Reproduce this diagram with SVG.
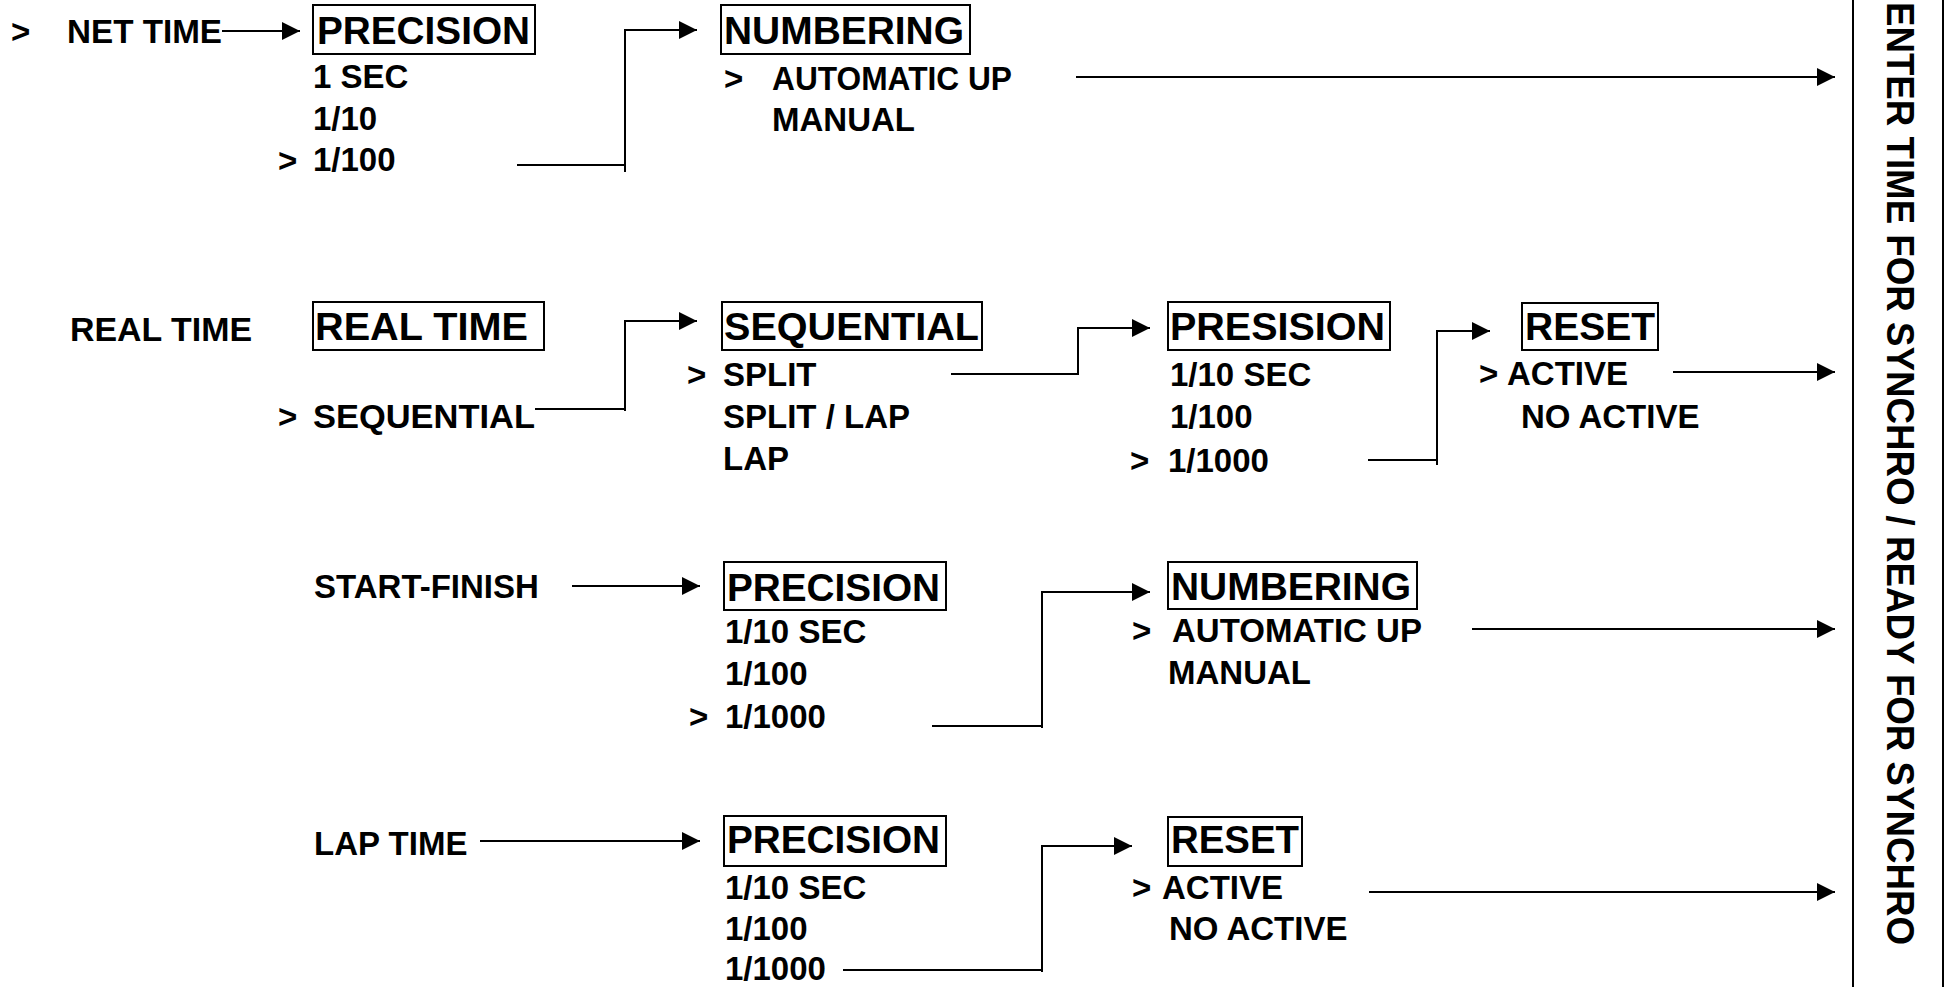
<svg xmlns="http://www.w3.org/2000/svg" width="1950" height="987" viewBox="0 0 1950 987">
<style>
text{font-family:"Liberation Sans",Arial,sans-serif;font-weight:bold;fill:#000}
.i{font-size:33px}
.h{font-size:39px}
.v{font-size:38px}
.box{fill:none;stroke:#000;stroke-width:2}
.c{fill:none;stroke:#000;stroke-width:2}
</style>
<defs>
<marker id="ah" markerUnits="userSpaceOnUse" markerWidth="20" markerHeight="20" refX="18" refY="9" orient="auto">
<path d="M0,0 L18,9 L0,18 z" fill="#000"/>
</marker>
</defs>
<rect width="1950" height="987" fill="#fff"/>

<g id="connectors">
<line class="c" x1="222" y1="31" x2="300" y2="31" marker-end="url(#ah)"/>
<polyline class="c" points="517,165 625,165"/>
<polyline class="c" points="625,172 625,30 697,30" marker-end="url(#ah)"/>
<line class="c" x1="1076" y1="77" x2="1835" y2="77" marker-end="url(#ah)"/>

<polyline class="c" points="535,409 625,409"/>
<polyline class="c" points="625,411 625,321 697,321" marker-end="url(#ah)"/>
<polyline class="c" points="951,374 1078,374 1078,328 1150,328" marker-end="url(#ah)"/>
<polyline class="c" points="1368,460 1437,460"/>
<polyline class="c" points="1437,465 1437,331 1490,331" marker-end="url(#ah)"/>
<line class="c" x1="1673" y1="372" x2="1835" y2="372" marker-end="url(#ah)"/>

<line class="c" x1="572" y1="586" x2="700" y2="586" marker-end="url(#ah)"/>
<polyline class="c" points="932,726 1042,726"/>
<polyline class="c" points="1042,728 1042,592 1150,592" marker-end="url(#ah)"/>
<line class="c" x1="1472" y1="629" x2="1835" y2="629" marker-end="url(#ah)"/>

<line class="c" x1="480" y1="841" x2="700" y2="841" marker-end="url(#ah)"/>
<polyline class="c" points="843,970 1042,970"/>
<polyline class="c" points="1042,972 1042,846 1132,846" marker-end="url(#ah)"/>
<line class="c" x1="1369" y1="892" x2="1835" y2="892" marker-end="url(#ah)"/>
</g>

<g id="net-time">
<text class="i" x="11" y="43">&gt;</text>
<text class="i" x="67" y="43" textLength="155" lengthAdjust="spacingAndGlyphs">NET TIME</text>
</g>
<g id="precision-1">
<rect class="box" x="313" y="5" width="222" height="49"/>
<text class="h" x="317" y="44" textLength="213" lengthAdjust="spacingAndGlyphs">PRECISION</text>
<text class="i" x="313" y="88">1 SEC</text>
<text class="i" x="313" y="130">1/10</text>
<text class="i" x="278" y="172">&gt;</text>
<text class="i" x="313" y="171">1/100</text>
</g>
<g id="numbering-1">
<rect class="box" x="721" y="5" width="249" height="49"/>
<text class="h" x="724" y="44" textLength="240" lengthAdjust="spacingAndGlyphs">NUMBERING</text>
<text class="i" x="724" y="90">&gt;</text>
<text class="i" x="772" y="90" textLength="240" lengthAdjust="spacingAndGlyphs">AUTOMATIC UP</text>
<text class="i" x="772" y="131">MANUAL</text>
</g>

<g id="real-time-label">
<text class="i" x="70" y="341" textLength="182" lengthAdjust="spacingAndGlyphs">REAL TIME</text>
</g>
<g id="real-time">
<rect class="box" x="313" y="302" width="231" height="48"/>
<text class="h" x="315" y="340" textLength="213" lengthAdjust="spacingAndGlyphs">REAL TIME</text>
<text class="i" x="278" y="428">&gt;</text>
<text class="i" x="313" y="428" textLength="222" lengthAdjust="spacingAndGlyphs">SEQUENTIAL</text>
</g>
<g id="sequential">
<rect class="box" x="722" y="302" width="260" height="48"/>
<text class="h" x="724" y="340" textLength="255" lengthAdjust="spacingAndGlyphs">SEQUENTIAL</text>
<text class="i" x="687" y="386">&gt;</text>
<text class="i" x="723" y="386">SPLIT</text>
<text class="i" x="723" y="428">SPLIT / LAP</text>
<text class="i" x="723" y="470">LAP</text>
</g>
<g id="presision">
<rect class="box" x="1168" y="302" width="222" height="48"/>
<text class="h" x="1170" y="340" textLength="215" lengthAdjust="spacingAndGlyphs">PRESISION</text>
<text class="i" x="1170" y="386">1/10 SEC</text>
<text class="i" x="1170" y="428">1/100</text>
<text class="i" x="1130" y="472">&gt;</text>
<text class="i" x="1168" y="472">1/1000</text>
</g>
<g id="reset-2">
<rect class="box" x="1522" y="303" width="136" height="47"/>
<text class="h" x="1525" y="340" textLength="130" lengthAdjust="spacingAndGlyphs">RESET</text>
<text class="i" x="1479" y="385">&gt;</text>
<text class="i" x="1507" y="385">ACTIVE</text>
<text class="i" x="1521" y="428">NO ACTIVE</text>
</g>

<g id="start-finish">
<text class="i" x="314" y="598">START-FINISH</text>
</g>
<g id="precision-3">
<rect class="box" x="724" y="562" width="222" height="48"/>
<text class="h" x="727" y="601" textLength="213" lengthAdjust="spacingAndGlyphs">PRECISION</text>
<text class="i" x="725" y="643">1/10 SEC</text>
<text class="i" x="725" y="685">1/100</text>
<text class="i" x="689" y="728">&gt;</text>
<text class="i" x="725" y="728">1/1000</text>
</g>
<g id="numbering-3">
<rect class="box" x="1168" y="562" width="249" height="47"/>
<text class="h" x="1171" y="600" textLength="240" lengthAdjust="spacingAndGlyphs">NUMBERING</text>
<text class="i" x="1132" y="642">&gt;</text>
<text class="i" x="1172" y="642">AUTOMATIC UP</text>
<text class="i" x="1168" y="684">MANUAL</text>
</g>

<g id="lap-time">
<text class="i" x="314" y="855">LAP TIME</text>
</g>
<g id="precision-4">
<rect class="box" x="724" y="816" width="222" height="50"/>
<text class="h" x="727" y="853" textLength="213" lengthAdjust="spacingAndGlyphs">PRECISION</text>
<text class="i" x="725" y="899">1/10 SEC</text>
<text class="i" x="725" y="940">1/100</text>
<text class="i" x="725" y="980">1/1000</text>
</g>
<g id="reset-4">
<rect class="box" x="1168" y="817" width="134" height="49"/>
<text class="h" x="1171" y="853" textLength="128" lengthAdjust="spacingAndGlyphs">RESET</text>
<text class="i" x="1132" y="899">&gt;</text>
<text class="i" x="1162" y="899">ACTIVE</text>
<text class="i" x="1169" y="940">NO ACTIVE</text>
</g>

<g id="synchro">
<rect class="box" x="1853" y="-3" width="90" height="993"/>
<text class="v" transform="translate(1887,2) rotate(90)" x="0" y="0" textLength="943" lengthAdjust="spacingAndGlyphs">ENTER TIME FOR SYNCHRO / READY FOR SYNCHRO</text>
</g>
</svg>
